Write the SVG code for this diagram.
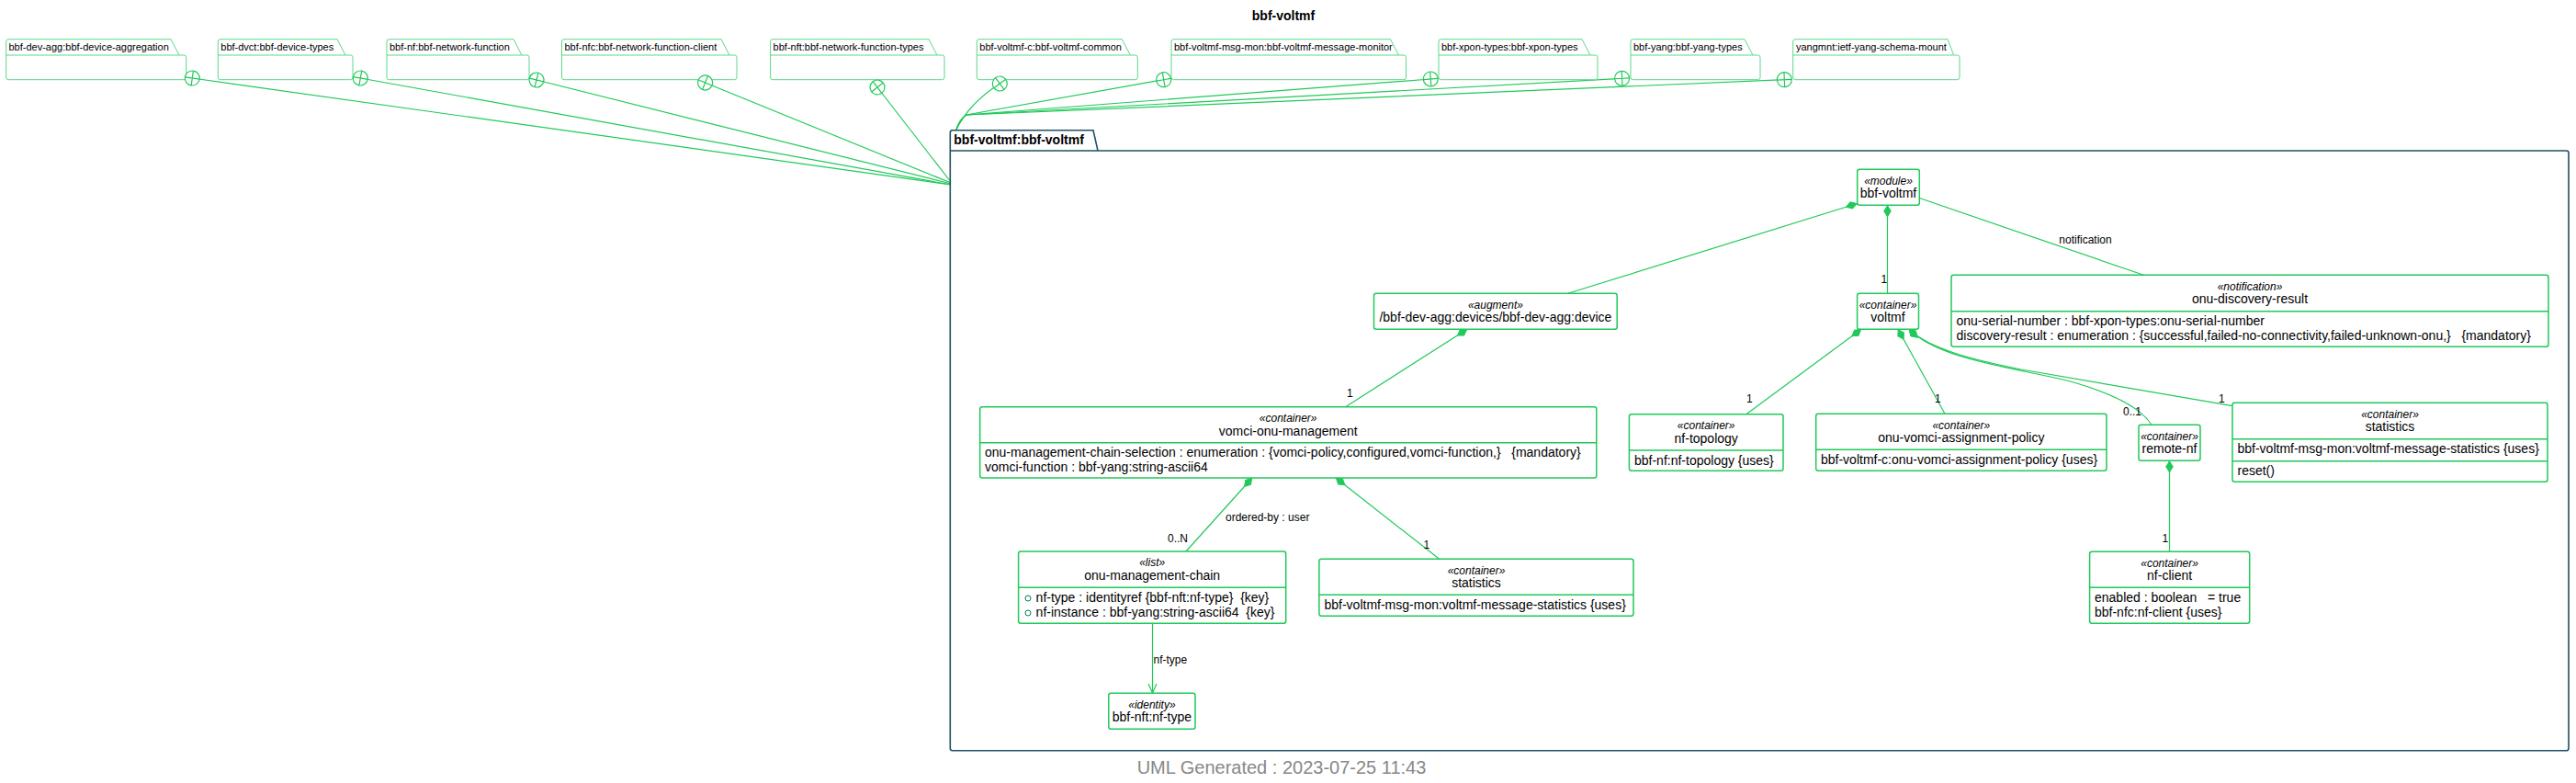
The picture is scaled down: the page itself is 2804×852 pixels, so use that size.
<svg xmlns="http://www.w3.org/2000/svg" width="2804" height="852" viewBox="0 0 2804 852">
<defs>
<style>
text { font-family: "Liberation Sans", Arial, sans-serif; fill:#000; }
.pk { fill:#fff; stroke:#5cd88a; stroke-width:1; }
.pkt { font-size:11px; }
.cls { fill:#fff; stroke:#20c95a; stroke-width:1.5; }
.sep { stroke:#20c95a; stroke-width:1.5; fill:none; }
.st { font-size:12px; font-style:italic; text-anchor:middle; }
.nm { font-size:14px; text-anchor:middle; }
.at { font-size:14px; white-space:pre; }
.lbl { font-size:12px; white-space:pre; }
.edge { fill:none; stroke:#20c95a; stroke-width:1.2; }
.dia { marker-start:url(#dia); }
</style>
<marker id="dia" markerUnits="userSpaceOnUse" markerWidth="14" markerHeight="10" refX="0" refY="5" orient="auto" viewBox="0 0 14 10">
<path d="M0.5,5 L6.5,1.2 L12.5,5 L6.5,8.8 Z" fill="#20c95a" stroke="#20c95a" stroke-width="1"/>
</marker>
<marker id="arr" markerUnits="userSpaceOnUse" markerWidth="12" markerHeight="12" refX="11" refY="6" orient="auto" viewBox="0 0 12 12">
<path d="M1,1.5 L11,6 L1,10.5" fill="none" stroke="#20c95a" stroke-width="1.2"/>
</marker>
<g id="ic"><circle r="8" fill="#fff" stroke="#20c95a" stroke-width="1.2"/><path d="M-8,0H8M0,-8V8" stroke="#20c95a" stroke-width="1.2"/></g>
</defs>
<rect width="2804" height="852" fill="#fff"/>
<text x="1397" y="22" font-size="14" font-weight="bold" text-anchor="middle">bbf-voltmf</text>

<g id="imports">
<path class="edge" d="M209.3,85 L1035,201"/>
<path class="edge" d="M392.3,85 L1035,201"/>
<path class="edge" d="M584,87 L1035,200"/>
<path class="edge" d="M767.6,90 L1035,199"/>
<path class="edge" d="M955,95 L1035,198"/>
<path class="edge" d="M1088.3,91 C1068,104 1050,122 1040.7,141.7"/>
<path class="edge" d="M1266.7,86.7 L1051.7,125 Q1044,131 1040.7,141.7"/>
<path class="edge" d="M1557.3,86 L1051.7,125 Q1044,131 1040.7,141.7"/>
<path class="edge" d="M1765.6,85.3 L1051.7,125 Q1044,131 1040.7,141.7"/>
<path class="edge" d="M1942.3,86.7 L1051.7,125 Q1044,131 1040.7,141.7"/>
</g>

<g id="pkg-dev-agg">
<path class="pk" d="M6.7,60 V45.2 Q6.7,42.7 9.2,42.7 H186 L195,60 H200.2 Q202.7,60 202.7,62.5 V84.2 Q202.7,86.7 200.2,86.7 H9.2 Q6.7,86.7 6.7,84.2 Z M6.7,60 H195"/>
<text class="pkt" x="9.5" y="55">bbf-dev-agg:bbf-device-aggregation</text>
<use href="#ic" transform="translate(209.3,85) rotate(8)"/>
</g>
<g id="pkg-dvct">
<path class="pk" d="M237.3,60 V45.2 Q237.3,42.7 239.8,42.7 H367 L376,60 H381.5 Q384,60 384,62.5 V84.2 Q384,86.7 381.5,86.7 H239.8 Q237.3,86.7 237.3,84.2 Z M237.3,60 H376"/>
<text class="pkt" x="240.3" y="55">bbf-dvct:bbf-device-types</text>
<use href="#ic" transform="translate(392.3,85) rotate(10.2)"/>
</g>
<g id="pkg-nf">
<path class="pk" d="M421,60 V45.2 Q421,42.7 423.5,42.7 H559 L568,60 H573.5 Q576,60 576,62.5 V84.2 Q576,86.7 573.5,86.7 H423.5 Q421,86.7 421,84.2 Z M421,60 H568"/>
<text class="pkt" x="424" y="55">bbf-nf:bbf-network-function</text>
<use href="#ic" transform="translate(584,87) rotate(14.1)"/>
</g>
<g id="pkg-nfc">
<path class="pk" d="M611.5,60 V45.2 Q611.5,42.7 614,42.7 H785 L794,60 H799.5 Q802,60 802,62.5 V84.2 Q802,86.7 799.5,86.7 H614 Q611.5,86.7 611.5,84.2 Z M611.5,60 H794"/>
<text class="pkt" x="614.5" y="55">bbf-nfc:bbf-network-function-client</text>
<use href="#ic" transform="translate(767.6,90) rotate(22.2)"/>
</g>
<g id="pkg-nft">
<path class="pk" d="M838.6,60 V45.2 Q838.6,42.7 841.1,42.7 H1011 L1020,60 H1025.5 Q1028,60 1028,62.5 V84.2 Q1028,86.7 1025.5,86.7 H841.1 Q838.6,86.7 838.6,84.2 Z M838.6,60 H1020"/>
<text class="pkt" x="841.6" y="55">bbf-nft:bbf-network-function-types</text>
<use href="#ic" transform="translate(955,95) rotate(52.2)"/>
</g>
<g id="pkg-voltmf-c">
<path class="pk" d="M1063.3,60 V45.2 Q1063.3,42.7 1065.8,42.7 H1221.3 L1230.3,60 H1235.8 Q1238.3,60 1238.3,62.5 V84.2 Q1238.3,86.7 1235.8,86.7 H1065.8 Q1063.3,86.7 1063.3,84.2 Z M1063.3,60 H1230.3"/>
<text class="pkt" x="1066.3" y="55">bbf-voltmf-c:bbf-voltmf-common</text>
<use href="#ic" transform="translate(1088.3,91) rotate(53.9)"/>
</g>
<g id="pkg-msg-mon">
<path class="pk" d="M1275,60 V45.2 Q1275,42.7 1277.5,42.7 H1513.5 L1522.5,60 H1528 Q1530.5,60 1530.5,62.5 V84.2 Q1530.5,86.7 1528,86.7 H1277.5 Q1275,86.7 1275,84.2 Z M1275,60 H1522.5"/>
<text class="pkt" x="1278" y="55">bbf-voltmf-msg-mon:bbf-voltmf-message-monitor</text>
<use href="#ic" transform="translate(1266.7,86.7) rotate(79.9)"/>
</g>
<g id="pkg-xpon">
<path class="pk" d="M1566,60 V45.2 Q1566,42.7 1568.5,42.7 H1722 L1731,60 H1736.5 Q1739,60 1739,62.5 V84.2 Q1739,86.7 1736.5,86.7 H1568.5 Q1566,86.7 1566,84.2 Z M1566,60 H1731"/>
<text class="pkt" x="1569" y="55">bbf-xpon-types:bbf-xpon-types</text>
<use href="#ic" transform="translate(1557.3,86) rotate(85.6)"/>
</g>
<g id="pkg-yang">
<path class="pk" d="M1775,60 V45.2 Q1775,42.7 1777.5,42.7 H1899 L1908,60 H1913.5 Q1916,60 1916,62.5 V84.2 Q1916,86.7 1913.5,86.7 H1777.5 Q1775,86.7 1775,84.2 Z M1775,60 H1908"/>
<text class="pkt" x="1778" y="55">bbf-yang:bbf-yang-types</text>
<use href="#ic" transform="translate(1765.6,85.3) rotate(86.8)"/>
</g>
<g id="pkg-yangmnt">
<path class="pk" d="M1951.7,60 V45.2 Q1951.7,42.7 1954.2,42.7 H2120 L2126.7,60 H2130.5 Q2133,60 2133,62.5 V84.2 Q2133,86.7 2130.5,86.7 H1954.2 Q1951.7,86.7 1951.7,84.2 Z M1951.7,60 H2126.7"/>
<text class="pkt" x="1955" y="55">yangmnt:ietf-yang-schema-mount</text>
<use href="#ic" transform="translate(1942.3,86.7) rotate(87.5)"/>
</g>

<g id="pkg-bbf-voltmf">
<path d="M1034.3,164 V144.2 Q1034.3,141.7 1036.8,141.7 H1190 L1195,164 H2793.5 Q2796,164 2796,166.5 V814.2 Q2796,816.7 2793.5,816.7 H1036.8 Q1034.3,816.7 1034.3,814.2 Z M1034.3,164 H1195" fill="none" stroke="#1e5162" stroke-width="1.6"/>
<text x="1038.3" y="157" font-size="14" font-weight="bold">bbf-voltmf:bbf-voltmf</text>
</g>

<g id="connectors">
<path class="edge dia" d="M2021.5,221.5 L1706.7,319.3"/>
<path class="edge dia" d="M2054.5,223.3 V319.3"/>
<path class="edge" d="M2089.3,215.5 L2333.4,299.3"/>
<path class="edge dia" d="M1597,358.3 L1464.6,442.7"/>
<path class="edge dia" d="M2026,358.3 L1900.8,450.7"/>
<path class="edge dia" d="M2066,358.3 L2117,450.3"/>
<path class="edge dia" d="M2078,358.3 C2110,390 2180,398 2250,414 C2300,428 2330,443 2342,462.3"/>
<path class="edge dia" d="M2078,358.3 C2100,380 2150,392 2200,402 L2430,441.7"/>
<path class="edge dia" d="M2361.5,501.3 V600.3"/>
<path class="edge dia" d="M1363,520 L1291,600"/>
<path class="edge dia" d="M1454,520 L1566.7,608.3"/>
<path class="edge" d="M1254.5,678.3 V754" marker-end="url(#arr)"/>
<text class="lbl" x="2047.5" y="308">1</text>
<text class="lbl" x="2241.3" y="265">notification</text>
<text class="lbl" x="1466" y="431.5">1</text>
<text class="lbl" x="1901" y="438">1</text>
<text class="lbl" x="2106" y="438">1</text>
<text class="lbl" x="2311" y="452">0..1</text>
<text class="lbl" x="2415" y="438">1</text>
<text class="lbl" x="2353.5" y="590">1</text>
<text class="lbl" x="1334" y="567">ordered-by : user</text>
<text class="lbl" x="1271" y="590">0..N</text>
<text class="lbl" x="1549.5" y="597">1</text>
<text class="lbl" x="1255.5" y="722">nf-type</text>
</g>

<g id="n-module">
<rect class="cls" x="2021.7" y="184.3" width="67.6" height="39" rx="2.5"/>
<text class="st" x="2055.5" y="200.6">«module»</text>
<text class="nm" x="2055.5" y="215.3">bbf-voltmf</text>
</g>
<g id="n-voltmf">
<rect class="cls" x="2021.6" y="319.3" width="66.9" height="39" rx="2.5"/>
<text class="st" x="2055" y="335.6">«container»</text>
<text class="nm" x="2055" y="350.3">voltmf</text>
</g>
<g id="n-augment">
<rect class="cls" x="1495.5" y="319.3" width="264.7" height="39" rx="2.5"/>
<text class="st" x="1627.9" y="335.6">«augment»</text>
<text class="nm" x="1627.9" y="350.3">/bbf-dev-agg:devices/bbf-dev-agg:device</text>
</g>
<g id="n-onu-discovery-result">
<rect class="cls" x="2124" y="299.3" width="650" height="78" rx="2.5"/>
<path class="sep" d="M2124,338.7 H2774"/>
<text class="st" x="2449" y="315.6">«notification»</text>
<text class="nm" x="2449" y="330.3">onu-discovery-result</text>
<text class="at" x="2129.5" y="354.4" xml:space="preserve">onu-serial-number : bbf-xpon-types:onu-serial-number</text>
<text class="at" x="2129.5" y="370.4" xml:space="preserve">discovery-result : enumeration : {successful,failed-no-connectivity,failed-unknown-onu,}   {mandatory}</text>
</g>
<g id="n-vomci-onu-management">
<rect class="cls" x="1066.7" y="442.7" width="671.1" height="77.3" rx="2.5"/>
<path class="sep" d="M1066.7,481.7 H1737.8"/>
<text class="st" x="1402.2" y="459">«container»</text>
<text class="nm" x="1402.2" y="473.7">vomci-onu-management</text>
<text class="at" x="1072" y="497.4" xml:space="preserve">onu-management-chain-selection : enumeration : {vomci-policy,configured,vomci-function,}   {mandatory}</text>
<text class="at" x="1072" y="513.4" xml:space="preserve">vomci-function : bbf-yang:string-ascii64</text>
</g>
<g id="n-nf-topology">
<rect class="cls" x="1773.4" y="450.7" width="167.6" height="61.6" rx="2.5"/>
<path class="sep" d="M1773.4,490 H1941"/>
<text class="st" x="1857.2" y="467">«container»</text>
<text class="nm" x="1857.2" y="481.7">nf-topology</text>
<text class="at" x="1779" y="505.7">bbf-nf:nf-topology {uses}</text>
</g>
<g id="n-onu-vomci-assignment-policy">
<rect class="cls" x="1976.7" y="450.3" width="316.3" height="62" rx="2.5"/>
<path class="sep" d="M1976.7,489.3 H2293"/>
<text class="st" x="2134.8" y="466.6">«container»</text>
<text class="nm" x="2134.8" y="481.3">onu-vomci-assignment-policy</text>
<text class="at" x="1982" y="505">bbf-voltmf-c:onu-vomci-assignment-policy {uses}</text>
</g>
<g id="n-remote-nf">
<rect class="cls" x="2328" y="462.3" width="67" height="39" rx="2.5"/>
<text class="st" x="2361.5" y="478.6">«container»</text>
<text class="nm" x="2361.5" y="493.3">remote-nf</text>
</g>
<g id="n-statistics-voltmf">
<rect class="cls" x="2430" y="438.3" width="343" height="86" rx="2.5"/>
<path class="sep" d="M2430,477.7 H2773 M2430,501.7 H2773"/>
<text class="st" x="2601.5" y="454.6">«container»</text>
<text class="nm" x="2601.5" y="469.3">statistics</text>
<text class="at" x="2435.5" y="493.4">bbf-voltmf-msg-mon:voltmf-message-statistics {uses}</text>
<text class="at" x="2435.5" y="517.4">reset()</text>
</g>
<g id="n-nf-client">
<rect class="cls" x="2274.6" y="600.3" width="174.1" height="78" rx="2.5"/>
<path class="sep" d="M2274.6,639.3 H2448.7"/>
<text class="st" x="2361.6" y="616.6">«container»</text>
<text class="nm" x="2361.6" y="631.3">nf-client</text>
<text class="at" x="2280" y="655" xml:space="preserve">enabled : boolean   = true</text>
<text class="at" x="2280" y="671">bbf-nfc:nf-client {uses}</text>
</g>
<g id="n-onu-management-chain">
<rect class="cls" x="1108.6" y="600" width="291.1" height="78.3" rx="2.5"/>
<path class="sep" d="M1108.6,639.3 H1399.7"/>
<text class="st" x="1254.2" y="616.3">«list»</text>
<text class="nm" x="1254.2" y="631">onu-management-chain</text>
<circle cx="1119" cy="651" r="3" fill="none" stroke="#038048" stroke-width="1"/>
<circle cx="1119" cy="667" r="3" fill="none" stroke="#038048" stroke-width="1"/>
<text class="at" x="1127.6" y="655" xml:space="preserve">nf-type : identityref {bbf-nft:nf-type}  {key}</text>
<text class="at" x="1127.6" y="671" xml:space="preserve">nf-instance : bbf-yang:string-ascii64  {key}</text>
</g>
<g id="n-statistics-vomci">
<rect class="cls" x="1435.9" y="608.3" width="342.1" height="62" rx="2.5"/>
<path class="sep" d="M1435.9,647.3 H1778"/>
<text class="st" x="1607" y="624.6">«container»</text>
<text class="nm" x="1607" y="639.3">statistics</text>
<text class="at" x="1441.5" y="663">bbf-voltmf-msg-mon:voltmf-message-statistics {uses}</text>
</g>
<g id="n-nf-type">
<rect class="cls" x="1206.8" y="754.3" width="94.2" height="39" rx="2.5"/>
<text class="st" x="1253.9" y="770.6">«identity»</text>
<text class="nm" x="1253.9" y="785.3">bbf-nft:nf-type</text>
</g>

<text x="1395" y="841.5" font-size="20" fill="#888" style="fill:#888" text-anchor="middle">UML Generated : 2023-07-25 11:43</text>
</svg>
